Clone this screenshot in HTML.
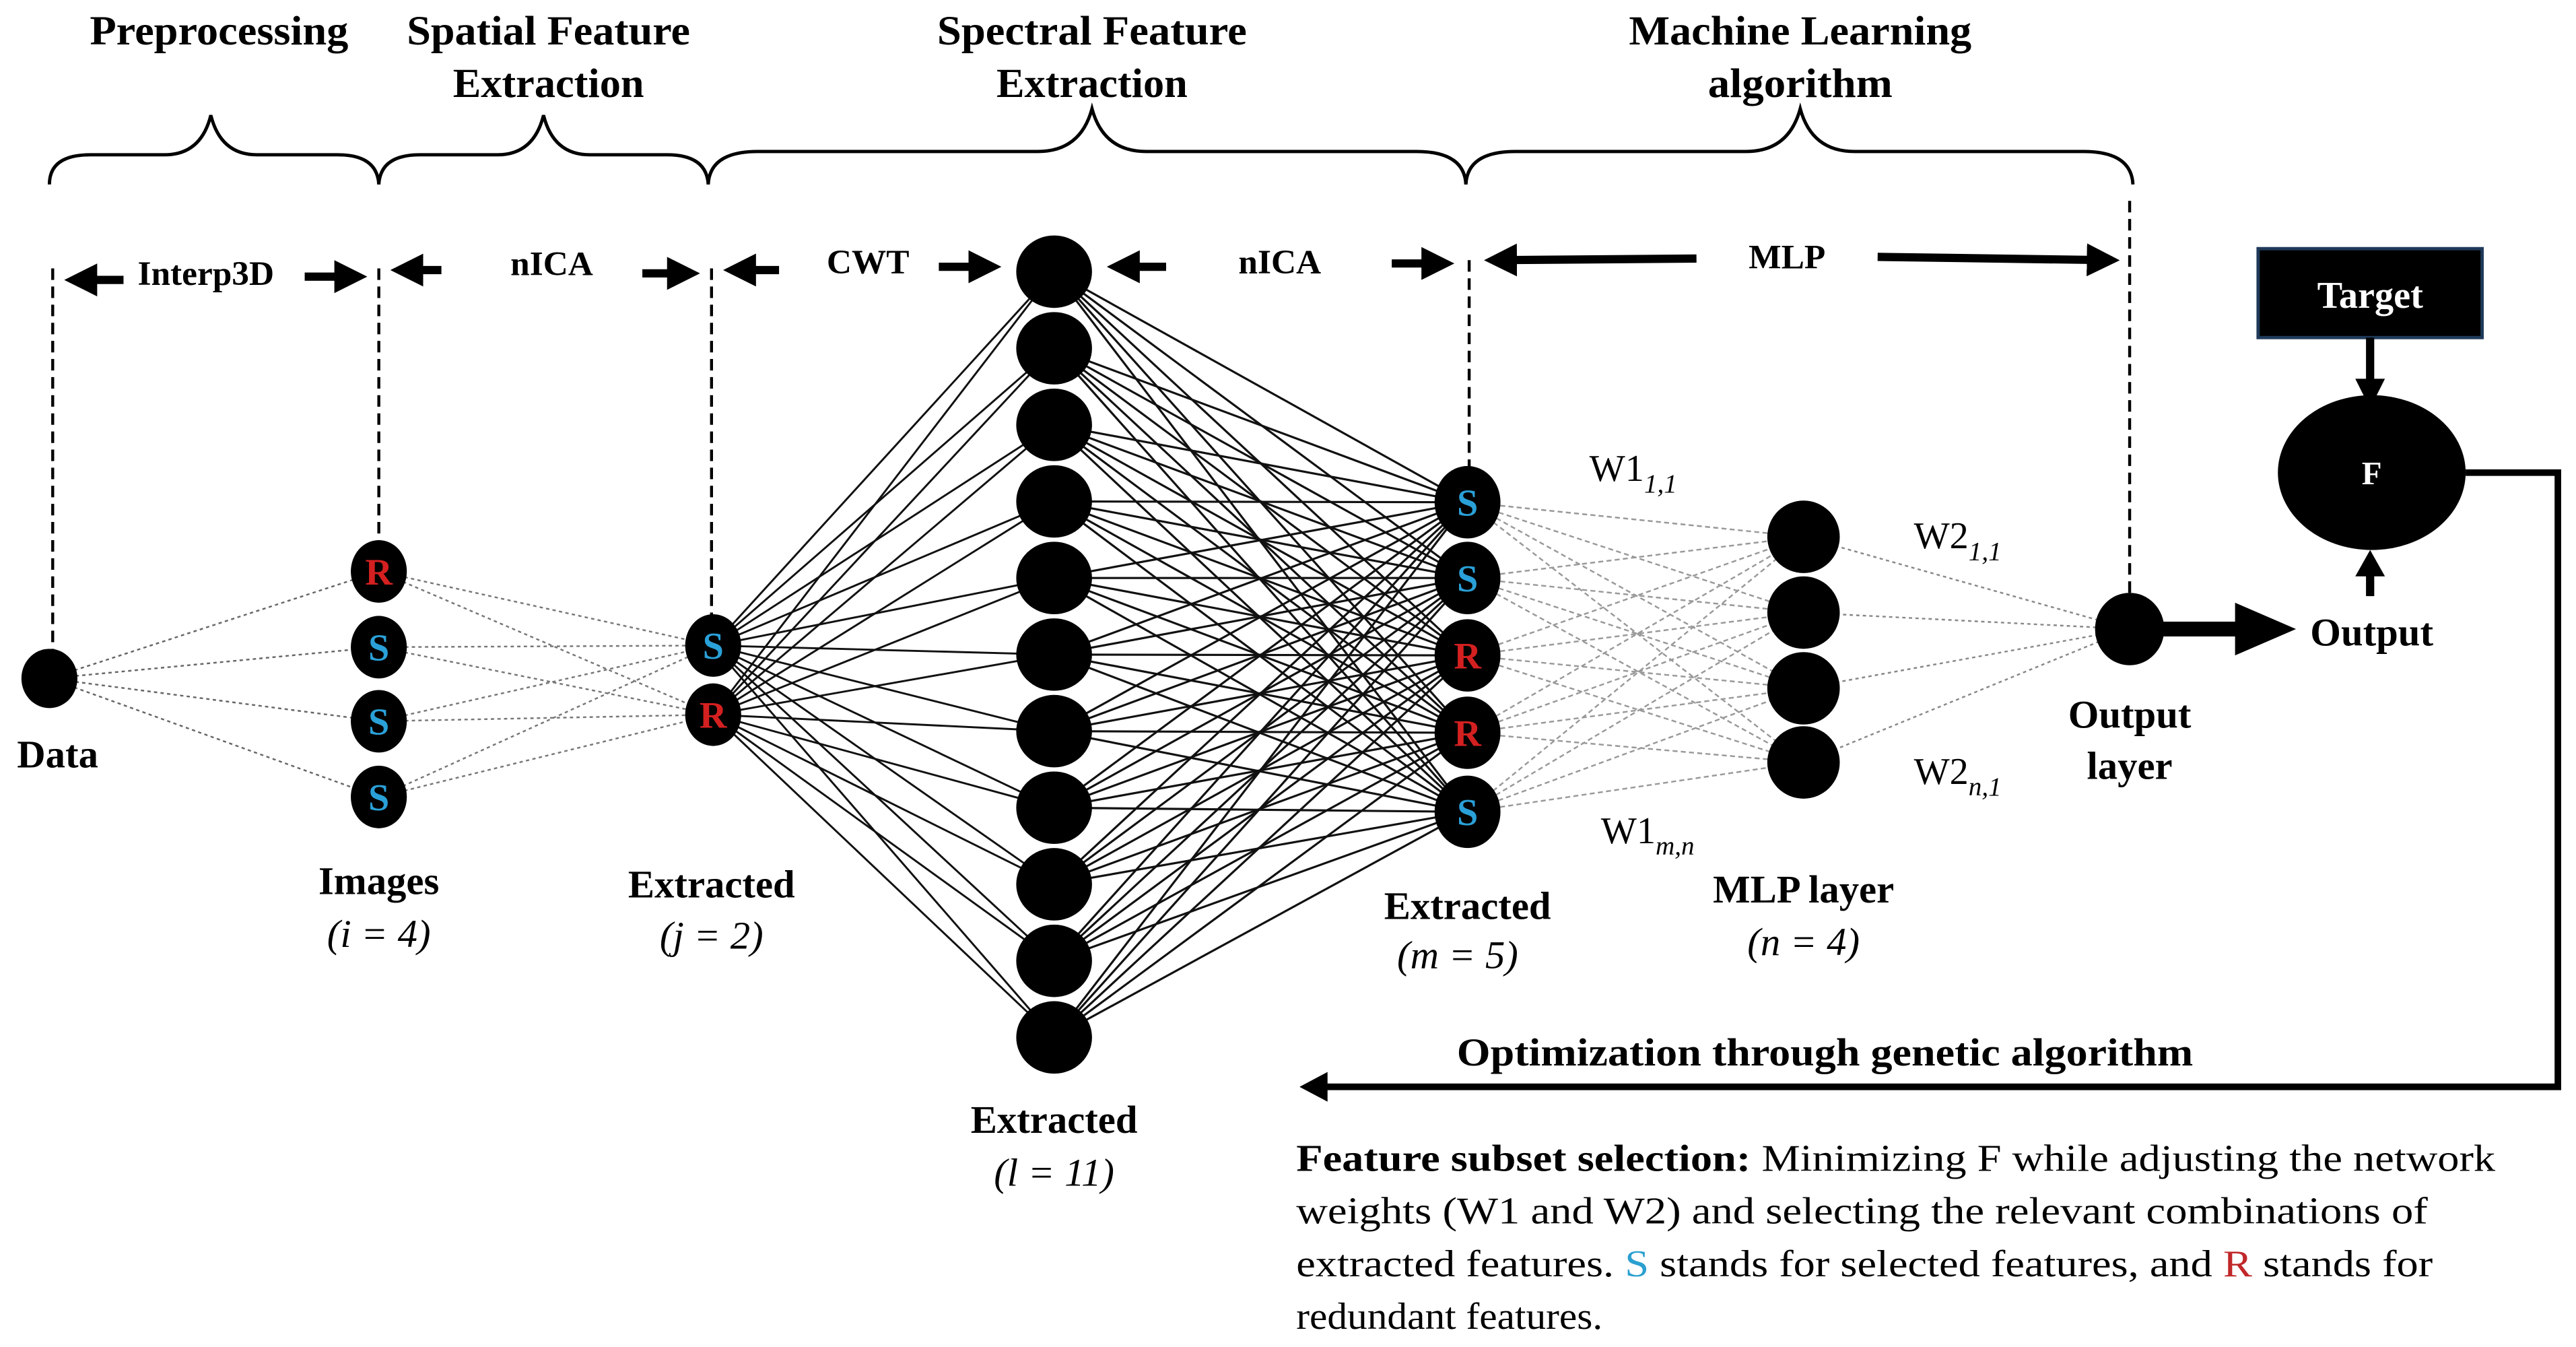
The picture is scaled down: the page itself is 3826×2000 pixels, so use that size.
<!DOCTYPE html>
<html><head><meta charset="utf-8"><style>
html,body{margin:0;padding:0;background:#fff;}
svg{display:block;}
text{font-family:"Liberation Serif",serif;}
</style></head><body>
<svg id="s" width="3826" height="2000" viewBox="0 0 1564 818" preserveAspectRatio="none" xmlns="http://www.w3.org/2000/svg">
<defs>
<marker id="ah" markerWidth="4" markerHeight="4" refX="3" refY="2" orient="auto" markerUnits="strokeWidth"><path d="M0,0 L4,2 L0,4 z" fill="#000"/></marker>
</defs>
<g id="conn"></g>
<!-- titles -->
<g font-weight="bold" font-size="25" text-anchor="middle" fill="#000" lengthAdjust="spacingAndGlyphs">
<text x="133" y="27" textLength="157" lengthAdjust="spacingAndGlyphs">Preprocessing</text>
<text x="333" y="27" textLength="172" lengthAdjust="spacingAndGlyphs">Spatial Feature</text><text x="333" y="59" textLength="116" lengthAdjust="spacingAndGlyphs">Extraction</text>
<text x="663" y="27" textLength="188" lengthAdjust="spacingAndGlyphs">Spectral Feature</text><text x="663" y="59" textLength="116" lengthAdjust="spacingAndGlyphs">Extraction</text>
<text x="1093" y="27" textLength="208" lengthAdjust="spacingAndGlyphs">Machine Learning</text><text x="1093" y="59" textLength="112" lengthAdjust="spacingAndGlyphs">algorithm</text>
</g>
<!-- braces -->
<g fill="none" stroke="#000" stroke-width="2">
<path d="M30,112 Q30,94 55,94 L100,94 Q122,94 128,70 Q134,94 156,94 L205,94 Q229,94 230,112"/>
<path d="M230,112 Q231,94 255,94 L302,94 Q324,94 330,70 Q336,94 358,94 L405,94 Q429,94 430,112"/>
<path d="M430,112 Q431,92 460,92 L630,92 Q656,92 663,66 Q670,92 696,92 L860,92 Q889,92 890,112"/>
<path d="M890,112 Q891,92 920,92 L1060,92 Q1086,92 1093,66 Q1100,92 1126,92 L1265,92 Q1294,92 1295,112"/>
</g>
<!-- dashed verticals -->
<g stroke="#000" stroke-width="1.8" stroke-dasharray="7,4">
<line x1="32" y1="163" x2="32" y2="400"/>
<line x1="230" y1="163" x2="230" y2="330"/>
<line x1="432" y1="163" x2="432" y2="378"/>
<line x1="892" y1="158" x2="892" y2="288"/>
<line x1="1293" y1="122" x2="1293" y2="365"/>
</g>
<!-- row arrows -->
<g stroke="#000" stroke-width="5" marker-end="url(#ah)">
<line x1="75" y1="170" x2="44" y2="170"/>
<line x1="185" y1="168" x2="218" y2="168"/>
<line x1="268" y1="164" x2="242" y2="164"/>
<line x1="390" y1="166" x2="420" y2="166"/>
<line x1="473" y1="164" x2="444" y2="164"/>
<line x1="570" y1="162" x2="603" y2="162"/>
<line x1="708" y1="162" x2="677" y2="162"/>
<line x1="845" y1="160" x2="878" y2="160"/>
<line x1="1030" y1="157" x2="906" y2="158"/>
<line x1="1140" y1="156" x2="1282" y2="158"/>
</g>
<g font-weight="bold" font-size="21" text-anchor="middle">
<text x="125" y="173">Interp3D</text>
<text x="335" y="167">nICA</text>
<text x="527" y="166">CWT</text>
<text x="777" y="166">nICA</text>
<text x="1085" y="163">MLP</text>
</g>
<g id="nodes"></g>
<!-- labels -->
<g font-weight="bold" font-size="24" text-anchor="middle">
<text x="35" y="466">Data</text>
<text x="230" y="543">Images</text>
<text x="432" y="545">Extracted</text>
<text x="640" y="688">Extracted</text>
<text x="891" y="558">Extracted</text>
<text x="1095" y="548">MLP layer</text>
<text x="1293" y="442">Output</text><text x="1293" y="473">layer</text>
<text x="1440" y="392">Output</text>
</g>
<g font-style="italic" font-size="24" text-anchor="middle">
<text x="230" y="575">(i  = 4)</text>
<text x="432" y="576">(j  = 2)</text>
<text x="640" y="720">(l  = 11)</text>
<text x="885" y="588">(m  = 5)</text>
<text x="1095" y="580">(n  = 4)</text>
</g>
<g font-size="23">
<text x="965" y="292">W1<tspan font-size="16" font-style="italic" dy="7">1,1</tspan></text>
<text x="1162" y="333">W2<tspan font-size="16" font-style="italic" dy="7">1,1</tspan></text>
<text x="1162" y="476">W2<tspan font-size="16" font-style="italic" dy="7">n,1</tspan></text>
<text x="972" y="512">W1<tspan font-size="16" font-style="italic" dy="7">m,n</tspan></text>
</g>
<!-- output side -->
<line x1="1312" y1="382" x2="1360" y2="382" stroke="#000" stroke-width="9"/>
<path d="M1357,366 L1394,382 L1357,398 z" fill="#000"/>
<rect x="1371" y="151" width="136" height="54" fill="#000" stroke="#1f3a5a" stroke-width="2"/>
<text x="1439" y="187" font-weight="bold" font-size="23" fill="#fff" text-anchor="middle">Target</text>
<line x1="1439" y1="205" x2="1439" y2="236" stroke="#000" stroke-width="5"/>
<path d="M1430,230 L1439,248 L1448,230 z" fill="#000"/>
<ellipse cx="1440" cy="287" rx="57" ry="47" fill="#000"/>
<text x="1440" y="294" font-weight="bold" font-size="20" fill="#fff" text-anchor="middle">F</text>
<line x1="1439" y1="362" x2="1439" y2="344" stroke="#000" stroke-width="5"/>
<path d="M1430,350 L1439,334 L1448,350 z" fill="#000"/>
<polyline points="1497,287 1553,287 1553,660 805,660" fill="none" stroke="#000" stroke-width="4"/>
<path d="M806,651 L789,660 L806,669 z" fill="#000"/>
<text x="1108" y="647" font-weight="bold" font-size="24" text-anchor="middle" textLength="447" lengthAdjust="spacingAndGlyphs">Optimization through genetic algorithm</text>
<g font-size="23">
<text x="787" y="711" textLength="728" lengthAdjust="spacingAndGlyphs"><tspan font-weight="bold">Feature subset selection:</tspan> Minimizing F while adjusting the network</text>
<text x="787" y="743" textLength="687" lengthAdjust="spacingAndGlyphs">weights (W1 and W2) and selecting the relevant combinations of</text>
<text x="787" y="775" textLength="690" lengthAdjust="spacingAndGlyphs">extracted features. <tspan fill="#2aa0d0">S</tspan> stands for selected features, and <tspan fill="#c0282a">R</tspan> stands for</text>
<text x="787" y="807" textLength="186" lengthAdjust="spacingAndGlyphs">redundant features.</text>
</g>
</svg>
<script>
var NS="http://www.w3.org/2000/svg";
var conn=document.getElementById("conn"),nodes=document.getElementById("nodes");
function L(a,b,c,d,col,w,dash){var l=document.createElementNS(NS,"line");l.setAttribute("x1",a);l.setAttribute("y1",b);l.setAttribute("x2",c);l.setAttribute("y2",d);l.setAttribute("stroke",col);l.setAttribute("stroke-width",w);if(dash)l.setAttribute("stroke-dasharray",dash);conn.appendChild(l);}
function N(x,y,rx,ry,t,c){var e=document.createElementNS(NS,"ellipse");e.setAttribute("cx",x);e.setAttribute("cy",y);e.setAttribute("rx",rx);e.setAttribute("ry",ry);e.setAttribute("fill","#000");nodes.appendChild(e);
if(t){var tx=document.createElementNS(NS,"text");tx.setAttribute("x",x);tx.setAttribute("y",y+8);tx.setAttribute("text-anchor","middle");tx.setAttribute("font-weight","bold");tx.setAttribute("font-size","23");tx.setAttribute("fill",c);tx.textContent=t;nodes.appendChild(tx);}}
var B="#2aa0d8",R="#d42020";
var img=[347,393,438,484],imT=["R","S","S","S"];
var ej=[392,434],ejT=["S","R"];
var cw=[];for(var i=0;i<11;i++)cw.push(165+i*46.5);
var em=[305,351,398,445,493],emT=["S","S","R","R","S"];
var ml=[326,372,418,463];
img.forEach(function(y){L(30,412,230,y,"#666",1,"2,2");});
img.forEach(function(y){ej.forEach(function(y2){L(230,y,433,y2,"#777",1,"2,2");});});
ej.forEach(function(y){cw.forEach(function(y2){L(433,y,640,y2,"#111",1.2);});});
cw.forEach(function(y){em.forEach(function(y2){L(640,y,891,y2,"#111",1.3);});});
em.forEach(function(y){ml.forEach(function(y2){L(891,y,1095,y2,"#999",1,"3,2");});});
ml.forEach(function(y){L(1095,y,1293,382,"#888",1,"2,2");});
N(30,412,17,18);
img.forEach(function(y,i){N(230,y,17,19,imT[i],imT[i]=="R"?R:B);});
ej.forEach(function(y,i){N(433,y,17,19,ejT[i],ejT[i]=="R"?R:B);});
cw.forEach(function(y){N(640,y,23,22);});
em.forEach(function(y,i){N(891,y,20,22,emT[i],emT[i]=="R"?R:B);});
ml.forEach(function(y){N(1095,y,22,22);});
N(1293,382,21,22);
</script>
</body></html>
